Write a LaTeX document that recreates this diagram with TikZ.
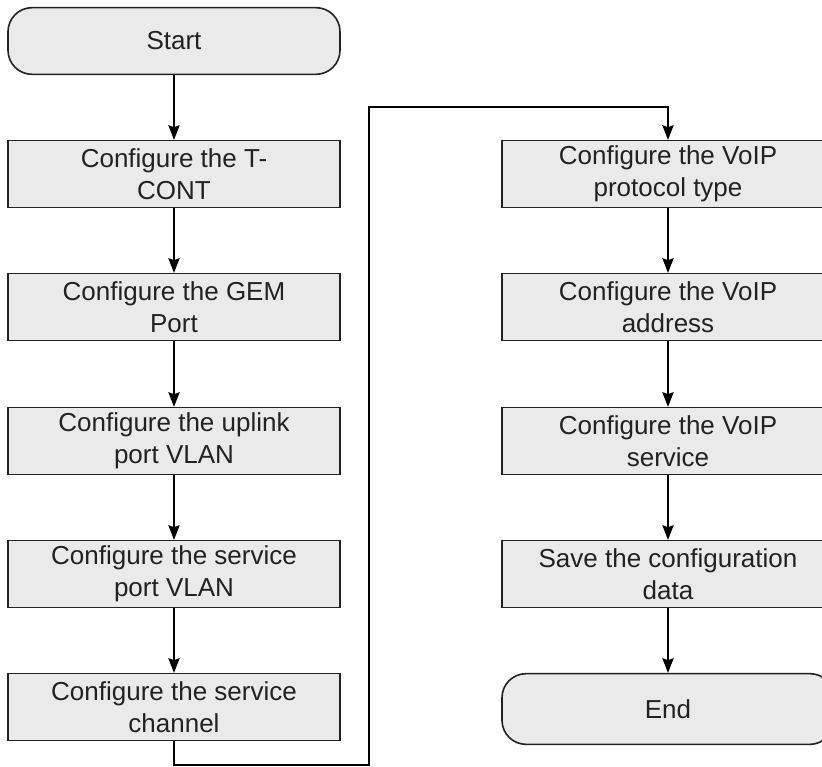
\documentclass[tikz,border=0pt]{standalone}
\usepackage{fontspec}
\setmainfont{Liberation Sans}
\usetikzlibrary{arrows.meta}
\definecolor{boxgray}{RGB}{234,234,234}
\definecolor{inkgray}{RGB}{34,34,34}
\tikzset{
	stepbox/.style={draw=inkgray, line width=1.2pt, fill=boxgray, minimum width=249pt, minimum height=50pt,
		inner sep=0pt, align=center, text=inkgray, font=\fontsize{19.5}{24}\selectfont},
	terminal/.style={stepbox, rounded corners=18pt},
	flow/.style={draw=black, line width=1.2pt, -{Stealth[length=11pt,width=8.5pt,inset=1.5pt]}}
}
\begin{document}
\begin{tikzpicture}[x=0.75pt, y=-0.75pt]
			%%%%% START %%%%%
			
			\useasboundingbox (0, 0) rectangle (822, 767);
			\clip (0, 0) rectangle (822, 767);
			
			\node[terminal] (start) at (174, 41) {Start};
			\node[stepbox] (tcont) at (174, 174) {Configure the T-\\CONT};
			\node[stepbox] (gem) at (174, 307) {Configure the GEM\\Port};
			\node[stepbox] (uplink) at (174, 441) {Configure the uplink\\port VLAN};
			\node[stepbox] (svport) at (174, 574) {Configure the service\\port VLAN};
			\node[stepbox] (channel) at (174, 707) {Configure the service\\channel};
			
			\node[stepbox] (proto) at (668, 174) {Configure the VoIP\\protocol type};
			\node[stepbox] (voipaddr) at (668, 307) {Configure the VoIP\\address};
			\node[stepbox] (voipsvc) at (668, 441) {Configure the VoIP\\service};
			\node[stepbox] (save) at (668, 574) {Save the configuration\\data};
			\node[terminal, minimum height=53pt] (finish) at (668, 709) {End};
			
			\draw[flow] (start) -- (tcont);
			\draw[flow] (tcont) -- (gem);
			\draw[flow] (gem) -- (uplink);
			\draw[flow] (uplink) -- (svport);
			\draw[flow] (svport) -- (channel);
			
			% link between the two columns
			\coordinate (lowturn) at (369, 765);
			\coordinate (highturn) at (369, 107);
			\draw[flow] (channel.south) |- (lowturn) -- (highturn) -| (proto.north);
			
			\draw[flow] (proto) -- (voipaddr);
			\draw[flow] (voipaddr) -- (voipsvc);
			\draw[flow] (voipsvc) -- (save);
			\draw[flow] (save) -- (finish);
			
			%%%%% END %%%%%
\end{tikzpicture}
\end{document}
